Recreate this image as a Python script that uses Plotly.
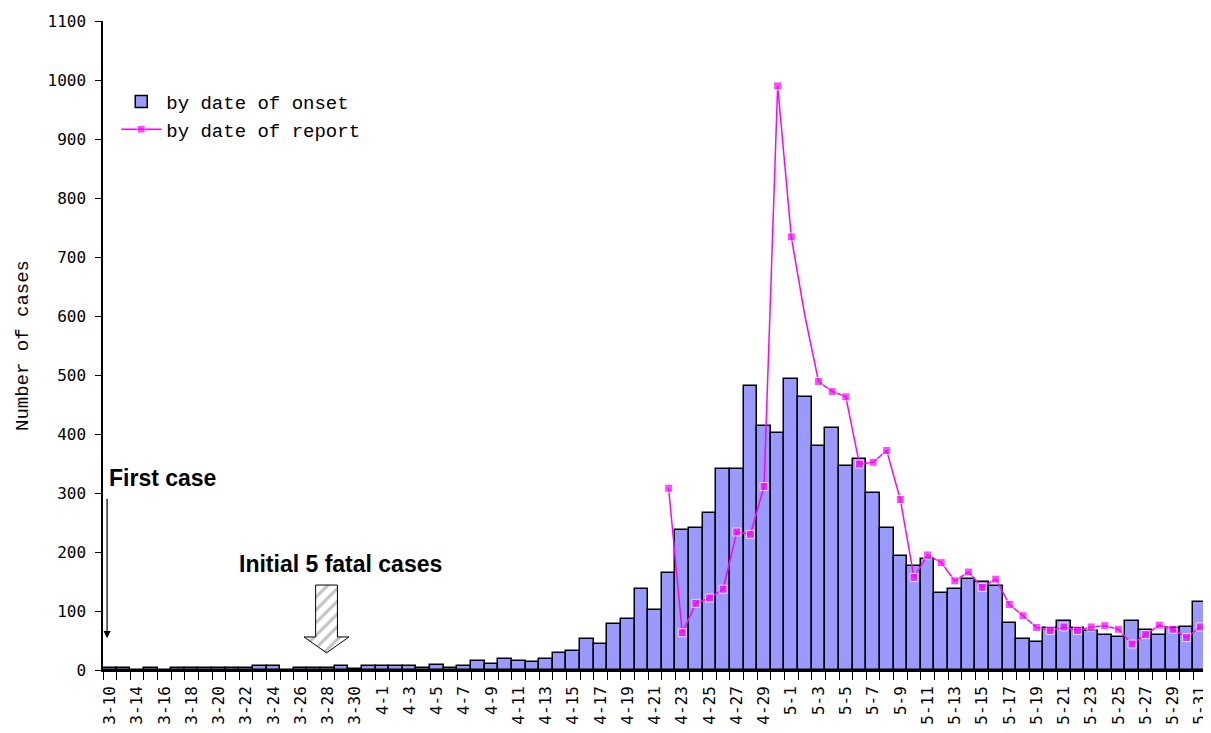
import plotly.graph_objects as go

# ---------------- data ----------------
march = ["3-10", "3-12"] + [f"3-{d}" for d in range(14, 32)]
april = [f"4-{d}" for d in range(1, 31)]
may = [f"5-{d}" for d in range(1, 32)]
categories = march + april + may

onset_cases = [
    3, 3, 0, 3, 0, 3, 3, 3, 3, 3, 3, 7, 7, 0, 3, 3, 3, 6, 2, 6,          # March
    6, 6, 6, 3, 9, 3, 7, 15, 11, 19, 16, 14, 19, 29, 32, 52, 44, 78, 86, 138,
    101, 164, 237, 240, 266, 340, 340, 481, 414, 402,                    # April
    493, 462, 380, 411, 346, 357, 300, 241, 193, 176, 188, 131, 138, 155, 150,
    142, 79, 53, 47, 72, 83, 72, 66, 59, 56, 83, 68, 59, 72, 73, 115,    # May
]

report_start = "4-22"
report_cases = [
    308, 63, 113, 122, 137, 234, 230, 311, 990,
    734, 600, 489, 472, 463, 349, 352, 372, 289, 157, 195, 182, 151, 166, 140,
    154, 111, 92, 72, 67, 73, 67, 73, 75, 69, 44, 60, 76, 69, 55, 73,
]
report_no_marker = ["5-2"]

tick_labels = categories[::2]

first_case_date = "3-10"
fatal_cases_date = "3-28"

# ---------------- figure ----------------
xi = list(range(len(categories)))
r0 = categories.index(report_start)
report_x = list(range(r0, r0 + len(report_cases)))
marker_sizes = [0 if categories[i] in report_no_marker else 8 for i in report_x]

fig = go.Figure()
fig.add_trace(go.Bar(
    x=xi, y=onset_cases, name="by date of onset",
    marker=dict(color="#9999FF", line=dict(color="black", width=1.5)),
    customdata=categories, hovertemplate="%{customdata}: %{y}<extra></extra>",
))
fig.add_trace(go.Scatter(
    x=report_x, y=report_cases, name="by date of report", mode="lines+markers",
    line=dict(color="#FF00FF", width=1.5),
    marker=dict(symbol="square", size=marker_sizes, color="#FF00FF"),
))

# hatched block arrow for initial fatal cases (annotation graphic)
c = categories.index(fatal_cases_date) - 0.1
sw, hw = 0.8, 1.65
top, neck, tip = 144, 56, 29
fig.add_trace(go.Scatter(
    x=[c - sw, c + sw, c + sw, c + hw, c, c - hw, c - sw, c - sw],
    y=[top, top, neck, neck, tip, neck, neck, top],
    mode="lines", fill="toself", showlegend=False, hoverinfo="skip",
    line=dict(color="black", width=1),
    fillcolor="white",
    fillpattern=dict(shape="/", fgcolor="#888888", bgcolor="white", size=9, solidity=0.35),
))

fx = categories.index(first_case_date) - 0.2
fig.add_annotation(x=fx, y=54, ax=fx, ay=293, xref="x", yref="y", axref="x", ayref="y",
                   text="", showarrow=True, arrowhead=2, arrowsize=1.2, arrowwidth=1.2,
                   arrowcolor="black")
fig.add_annotation(x=categories.index(first_case_date) - 0.2, y=326, xref="x", yref="y",
                   text="<b>First case</b>", showarrow=False, xanchor="left", yanchor="middle",
                   font=dict(family="Liberation Sans", size=23, color="black"))
fig.add_annotation(x=categories.index(fatal_cases_date) + 0.9, y=179, xref="x", yref="y",
                   text="<b>Initial 5 fatal cases</b>", showarrow=False, xanchor="center",
                   yanchor="middle",
                   font=dict(family="Liberation Sans", size=23, color="black"))

fig.update_layout(
    width=1203, height=725,
    margin=dict(l=95, r=4, t=13, b=63),
    paper_bgcolor="white", plot_bgcolor="white",
    bargap=0,
    showlegend=True,
    legend=dict(x=0.012, y=0.905, xanchor="left", yanchor="top",
                bgcolor="rgba(0,0,0,0)",
                font=dict(family="Liberation Mono", size=19, color="black"),
                itemwidth=40, tracegroupgap=4),
    xaxis=dict(
        range=[-0.5, len(categories) - 0.5],
        tickmode="array", tickvals=xi[::2], ticktext=tick_labels,
        tickangle=-90, ticks="outside", ticklen=8, tickcolor="rgba(0,0,0,0)",
        tickfont=dict(family="DejaVu Sans Mono", size=16, color="black"),
        showline=True, linecolor="black", linewidth=1.5,
        showgrid=False, zeroline=False, automargin=False,
        minor=dict(ticks="outside", tickmode="linear", tick0=-0.5, dtick=1,
                   ticklen=8, tickcolor="black", tickwidth=1.2, showgrid=False),
    ),
    yaxis=dict(
        range=[0, 1100], tickmode="linear", tick0=0, dtick=100,
        ticks="outside", ticklen=6, tickcolor="black", ticklabelstandoff=6,
        tickfont=dict(family="DejaVu Sans Mono", size=16, color="black"),
        showline=True, linecolor="black", linewidth=1.5,
        showgrid=False, zeroline=False, automargin=False,
        title=dict(text="Number of cases", standoff=14,
                   font=dict(family="Liberation Mono", size=19, color="black")),
    ),
)

fig.write_html("out.html")
